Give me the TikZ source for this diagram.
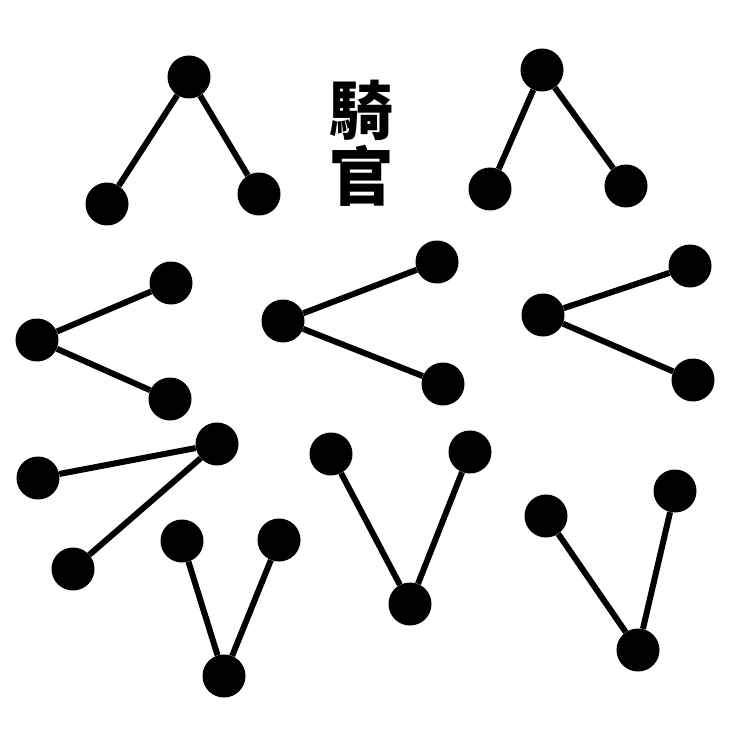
\documentclass[tikz,border=0pt]{standalone}
\usepackage{fontspec}
\newfontfamily\cjk{Noto Sans CJK TC}
\tikzset{
  atom/.style={circle,fill=black,minimum size=43pt,inner sep=0pt},
  bond/.style={line width=6pt,black},
  lbl/.style={font=\cjk\bfseries\fontsize{64}{70}\selectfont,inner sep=0pt}
}
\begin{document}
\begin{tikzpicture}[x=1pt,y=-1pt]
\useasboundingbox (0,0) rectangle (742,743);
% text
\node[lbl] (t1) at (361,110) {騎};
\node[lbl] (t2) at (361,176) {官};
% molecule 1 (top-left)
\node[atom] (a1c) at (189,77) {};
\node[atom] (a1l) at (107,204) {};
\node[atom] (a1r) at (259,194) {};
\draw[bond] (a1c) -- (a1l); \draw[bond] (a1c) -- (a1r);
% molecule 2 (top-right)
\node[atom] (a2c) at (542,70) {};
\node[atom] (a2l) at (490,189) {};
\node[atom] (a2r) at (626,186) {};
\draw[bond] (a2c) -- (a2l); \draw[bond] (a2c) -- (a2r);
% molecule 3 (middle-left)
\node[atom] (a3c) at (37,340) {};
\node[atom] (a3u) at (171,283) {};
\node[atom] (a3d) at (170,399) {};
\draw[bond] (a3c) -- (a3u); \draw[bond] (a3c) -- (a3d);
% molecule 4 (middle-center)
\node[atom] (a4c) at (283,321) {};
\node[atom] (a4u) at (437,262) {};
\node[atom] (a4d) at (443,384) {};
\draw[bond] (a4c) -- (a4u); \draw[bond] (a4c) -- (a4d);
% molecule 5 (middle-right)
\node[atom] (a5c) at (543,315) {};
\node[atom] (a5u) at (690,266) {};
\node[atom] (a5d) at (693,380) {};
\draw[bond] (a5c) -- (a5u); \draw[bond] (a5c) -- (a5d);
% molecule 6 (bottom-left)
\node[atom] (a6c) at (217,444) {};
\node[atom] (a6l) at (38,478) {};
\node[atom] (a6d) at (73,569) {};
\draw[bond] (a6c) -- (a6l); \draw[bond] (a6c) -- (a6d);
% molecule 7 (bottom)
\node[atom] (a7c) at (224,676) {};
\node[atom] (a7l) at (182,541) {};
\node[atom] (a7r) at (279,540) {};
\draw[bond] (a7c) -- (a7l); \draw[bond] (a7c) -- (a7r);
% molecule 8 (bottom-center)
\node[atom] (a8c) at (410,604) {};
\node[atom] (a8l) at (331,454) {};
\node[atom] (a8r) at (470,452) {};
\draw[bond] (a8c) -- (a8l); \draw[bond] (a8c) -- (a8r);
% molecule 9 (bottom-right)
\node[atom] (a9c) at (638,650) {};
\node[atom] (a9l) at (546,516) {};
\node[atom] (a9r) at (675,491) {};
\draw[bond] (a9c) -- (a9l); \draw[bond] (a9c) -- (a9r);
\end{tikzpicture}
\end{document}
